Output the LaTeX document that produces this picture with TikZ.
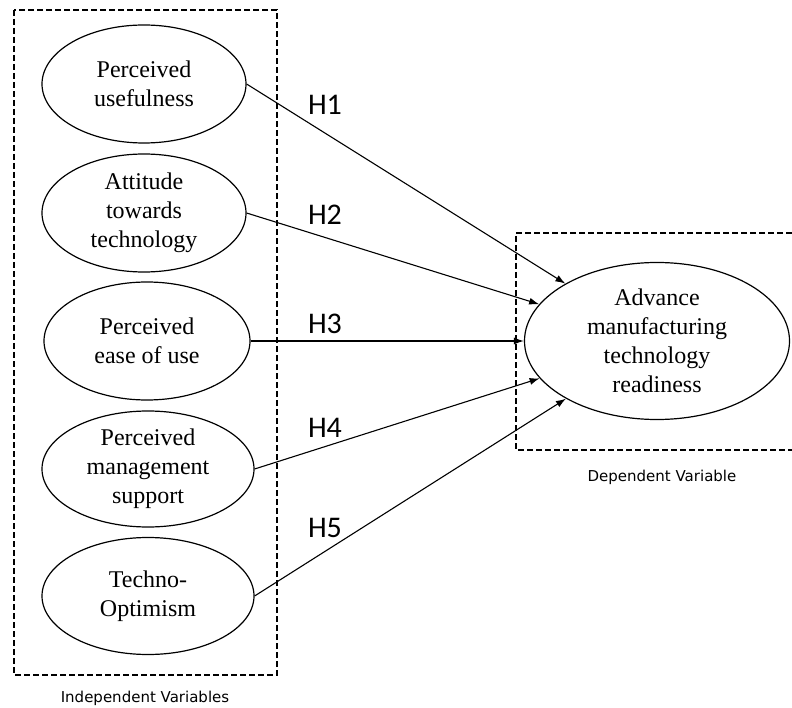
\documentclass[tikz,border=0pt]{standalone}
\usepackage{fontspec}
\setmainfont{Liberation Serif}
\newfontfamily\hfont{Carlito}
\newfontfamily\capfont{DejaVu Sans}
\usetikzlibrary{shapes.geometric,arrows.meta}
\tikzstyle{factor}=[draw, ellipse, line width=1.2pt, inner sep=0pt, align=center, font=\fontsize{24}{29}\selectfont]
\tikzstyle{varbox}=[draw, line width=2pt, dash pattern=on 6pt off 3pt]
\tikzstyle{hyp}=[line width=1.1pt, -{Latex[length=10pt,width=7pt]}]
\tikzstyle{hlabel}=[font=\hfont\fontsize{30}{36}\selectfont]
\tikzstyle{boxlabel}=[font=\capfont\fontsize{15}{18}\selectfont]

\begin{document}
\begin{tikzpicture}[x=1pt, y=-1pt]
  \useasboundingbox[fill=white] (0,0) rectangle (792,708);

  \node[factor, minimum width=204pt, minimum height=118pt] (PU) at (144,84) {Perceived\\usefulness};
  \node[factor, minimum width=204pt, minimum height=118pt] (AT) at (144,213) {Attitude\\towards\\technology};
  \node[factor, minimum width=206pt, minimum height=118pt] (PE) at (147,341) {Perceived\\ease of use};
  \node[factor, minimum width=212pt, minimum height=116pt] (PM) at (148,469) {Perceived\\management\\support};
  \node[factor, minimum width=212pt, minimum height=117pt] (TO) at (148,596) {Techno-\\Optimism};
  \draw[varbox] (14,10) rectangle (277,675);

  \node[factor, minimum width=265pt, minimum height=157pt] (AMT) at (657,341) {Advance\\manufacturing\\technology\\readiness};
  \draw[varbox] (792,233) -- (516,233) -- (516,450) -- (792,450);

  \path (PU.east) edge[hyp] (AMT);
  \path (AT.east) edge[hyp] (AMT);
  \path (PE.east) edge[hyp] (AMT);
  \path (PM.east) edge[hyp] (AMT);
  \path (TO.east) edge[hyp] (AMT);

  \node[hlabel] (L1) at (325,105) {H1};
  \node[hlabel] (L2) at (325,215) {H2};
  \node[hlabel] (L3) at (325,324) {H3};
  \node[hlabel] (L4) at (325,428) {H4};
  \node[hlabel] (L5) at (325,528) {H5};

  \node[boxlabel] (C1) at (145,698) {Independent Variables};
  \node[boxlabel] (C2) at (662,477) {Dependent Variable};
\end{tikzpicture}
\end{document}
